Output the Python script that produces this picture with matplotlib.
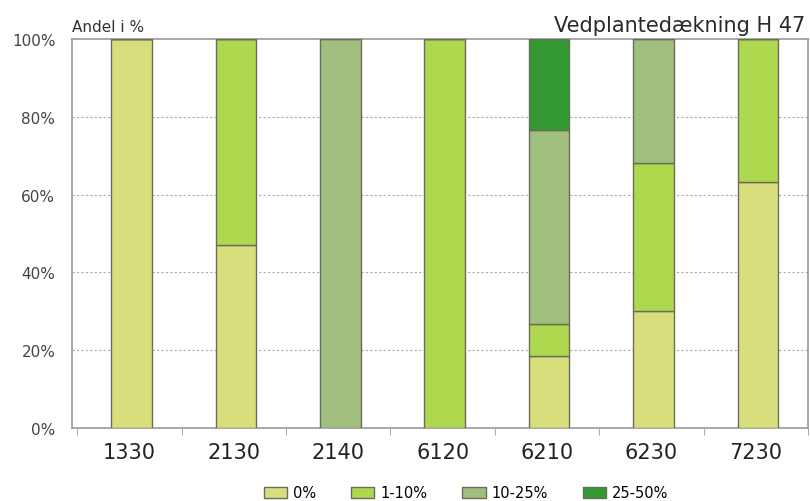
import numpy as np
import matplotlib
matplotlib.use('Agg')
import matplotlib.pyplot as plt
from matplotlib.patches import Patch

categories = ['1330', '2130', '2140', '6120', '6210', '6230', '7230']
series_names = ['0%', '1-10%', '10-25%', '25-50%']
share_0 = [100, 47, 0, 0, 18.5, 30.1, 63.2]
share_1_10 = [0, 53, 0, 100, 8.2, 38.0, 36.8]
share_10_25 = [0, 0, 100, 0, 49.9, 31.9, 0]
share_25_50 = [0, 0, 0, 0, 23.4, 0, 0]
colors = ['#D9DE7D', '#AED84E', '#A0BF7F', '#339933']

plt.rcParams['font.family'] = ['DejaVu Sans']

fig = plt.figure(figsize=(8.1, 5.02), dpi=100)
ax = fig.add_axes([72 / 810, 73 / 502, 736 / 810, 389 / 502])

x = np.arange(len(categories))
bottom = np.zeros(len(categories))
for vals, name, col in zip([share_0, share_1_10, share_10_25, share_25_50], series_names, colors):
    vals = np.array(vals, dtype=float)
    ax.bar(x + 0.02, vals, width=0.39, bottom=bottom, color=col,
           edgecolor='#6b6b5a', linewidth=1.0, zorder=3, label=name)
    bottom += vals

ax.set_xlim(-0.55, len(categories) - 0.5)
ax.set_ylim(0, 100)
ax.set_yticks([0, 20, 40, 60, 80, 100])
ax.set_yticklabels(['0%', '20%', '40%', '60%', '80%', '100%'], fontsize=11, color='#444444')
ax.set_xticks(x)
ax.set_xticklabels(categories, fontsize=15, color='#222222')
ax.set_xticks(np.arange(-0.5, len(categories)), minor=True)
ax.tick_params(axis='x', which='major', length=0, pad=10)
ax.tick_params(axis='x', which='minor', length=5, color='#999999', direction='out')
ax.tick_params(axis='y', length=0, pad=12)

for y in [20, 40, 60, 80]:
    ax.axhline(y, color='#aaaaaa', linestyle=(0, (2, 2)), linewidth=0.8, zorder=1)

for s in ax.spines.values():
    s.set_color('#999999')
    s.set_linewidth(1.2)

fig.text(72 / 810, 1 - 32 / 502, 'Andel i %', fontsize=11, color='#333333', ha='left', va='baseline')
fig.text(805 / 810, 1 - 32 / 502, 'Vedplantedækning H 47', fontsize=15, color='#2a2a2a',
         ha='right', va='baseline')

handles = [Patch(facecolor=c, edgecolor='#6b6b5a', label=n) for c, n in zip(colors, series_names)]
fig.legend(handles=handles, loc='center', bbox_to_anchor=(466 / 810, 1 - 494 / 502), ncol=4,
           frameon=False, fontsize=10.5, handlelength=1.6, handleheight=0.8,
           handletextpad=0.4, columnspacing=2.4, borderpad=0)

plt.savefig('out.png', dpi=100)
